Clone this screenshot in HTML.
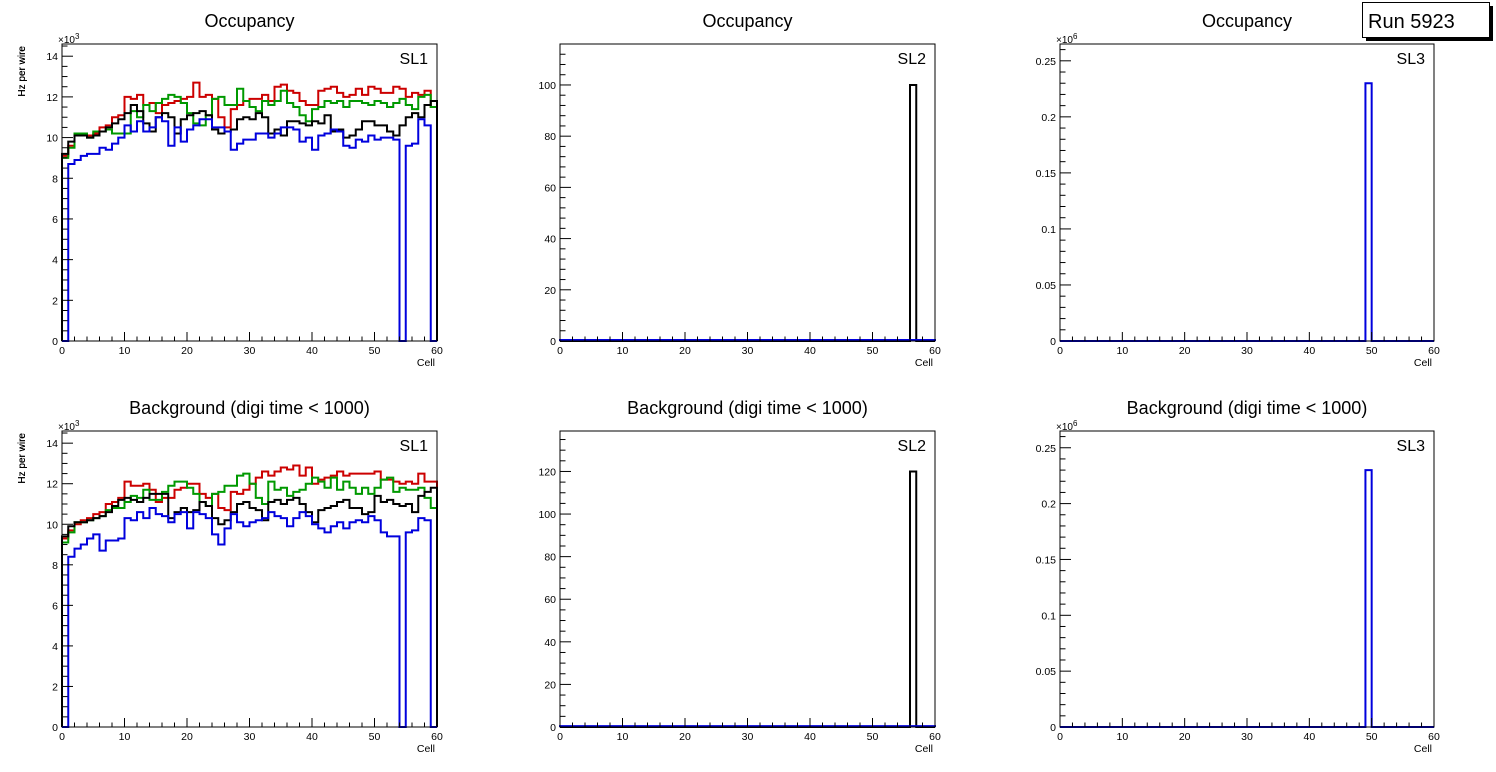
<!DOCTYPE html>
<html><head><meta charset="utf-8"><style>
html,body{margin:0;padding:0;background:#fff;}
svg{display:block;font-family:"Liberation Sans",sans-serif;}
</style></head><body>
<svg id="c" width="1496" height="772"></svg>
<script>
const bins = 60;
const occRed = [9.1,9.6,10.1,10.2,10.1,10.2,10.5,10.6,11.0,11.1,12.0,11.9,12.1,11.6,11.7,11.2,11.6,11.7,11.8,11.9,12.0,12.7,12.0,12.1,11.9,11.0,10.5,11.4,11.6,11.8,11.9,11.9,12.1,11.8,12.5,12.6,12.3,12.2,11.8,11.6,11.6,12.3,12.4,12.5,12.2,12.0,12.1,12.4,12.1,12.5,12.4,12.2,12.2,12.5,12.4,12.0,12.2,12.1,12.3,11.5];
const occGreen = [9.0,9.5,10.2,10.2,10.0,10.3,10.3,10.4,10.2,10.2,10.2,11.3,11.0,11.6,11.3,11.7,11.9,12.1,12.0,11.7,11.2,10.7,10.6,11.1,11.9,12.0,11.6,11.6,12.4,11.8,11.5,11.3,11.8,11.6,11.8,12.3,11.7,11.5,11.1,10.8,11.4,11.5,11.8,11.7,11.8,11.5,11.8,11.8,11.7,11.6,11.8,11.7,11.5,11.7,11.9,11.6,11.4,12.0,12.1,11.5];
const occBlack = [9.2,9.8,10.1,10.1,10.0,10.1,10.3,10.5,10.7,10.9,11.2,11.6,11.3,10.7,10.3,11.0,11.2,11.0,10.2,10.9,11.1,11.2,11.3,11.1,10.4,10.2,10.3,10.4,10.9,11.0,10.9,11.2,11.0,10.2,10.4,10.1,10.8,10.8,10.7,10.6,10.8,10.7,11.1,10.3,10.4,10.0,10.1,10.4,10.8,10.8,10.6,10.6,10.3,10.1,10.6,11.0,11.2,11.0,11.6,11.8];
const occBlue = [0,8.7,8.9,9.1,9.2,9.2,9.5,9.4,9.7,10.0,10.6,10.3,10.8,10.3,10.5,11.0,10.8,9.6,10.5,9.8,10.4,10.6,10.9,10.9,10.5,10.5,10.3,9.4,9.7,9.9,9.9,10.2,10.2,10.0,10.2,10.5,10.5,10.4,9.8,10.0,9.4,10.1,10.2,10.4,10.3,9.6,9.5,9.9,9.8,10.1,9.9,10.0,10.0,9.9,0,9.6,9.7,10.9,10.6,0];
const bkgRed = [9.3,9.7,10.0,10.2,10.3,10.5,10.6,11.0,11.1,11.3,12.1,11.9,11.9,12.0,11.7,11.1,11.3,11.3,11.7,11.8,12.0,12.0,11.5,11.3,11.5,10.8,10.7,11.6,11.5,11.7,12.0,12.3,12.6,12.4,12.6,12.8,12.7,12.9,12.4,12.8,12.0,12.2,12.3,12.4,12.6,12.4,12.5,12.5,12.5,12.5,12.6,12.2,12.2,12.1,12.0,12.1,12.0,12.5,12.1,12.1];
const bkgGreen = [9.1,9.6,10.1,10.1,10.2,10.3,10.4,10.7,10.8,10.8,11.1,11.4,11.3,11.7,11.2,11.2,11.6,11.9,12.1,12.1,11.8,11.5,11.1,10.9,11.5,11.6,11.9,11.9,12.4,12.5,12.0,11.3,11.0,12.1,11.7,11.8,11.4,11.6,11.7,12.0,12.3,12.1,11.8,12.3,11.7,12.1,11.8,11.5,11.8,11.5,11.8,12.2,12.3,11.6,11.8,11.7,11.7,11.8,11.3,10.8];
const bkgBlack = [9.4,9.9,10.1,10.1,10.2,10.3,10.4,10.6,10.9,11.2,11.3,11.2,11.1,11.3,11.5,11.5,11.5,10.3,10.6,10.8,10.6,10.7,11.1,10.9,10.3,10.0,10.2,10.6,11.0,11.1,10.8,10.7,10.2,11.1,11.2,11.0,11.2,11.3,11.0,10.6,10.1,10.7,10.8,10.9,11.1,11.2,10.8,10.8,10.5,10.6,11.4,11.1,11.2,11.0,10.9,11.0,10.6,11.4,11.6,11.8];
const bkgBlue = [0,8.4,8.8,9.0,9.3,9.5,8.7,9.2,9.2,9.3,10.3,10.2,10.6,10.3,10.8,10.5,10.4,10.1,10.5,10.6,9.8,10.6,10.5,10.3,9.5,9.0,9.8,10.5,10.1,9.9,10.1,10.2,10.3,10.6,10.4,10.3,9.9,10.3,10.6,10.4,10.0,9.8,9.6,9.9,10.1,9.8,10.1,10.2,10.1,10.4,10.2,9.6,9.4,9.4,0,9.6,9.7,10.3,10.2,0];
const sl2OccBlack = new Array(60).fill(0); sl2OccBlack[56] = 100;
const sl2BkgBlack = new Array(60).fill(0); sl2BkgBlack[56] = 120;
const sl2Blue = new Array(60).fill(0.4);
const sl3Blue = new Array(60).fill(0); sl3Blue[49] = 0.23;
const xTicks = [0,10,20,30,40,50,60];
const ticksA = [0,2,4,6,8,10,12,14];
const ticksB2 = [0,20,40,60,80,100];
const ticksB3 = [0,20,40,60,80,100,120];
const ticksC = [0,0.05,0.1,0.15,0.2,0.25];

const svg = document.getElementById('c');
const NS = 'http://www.w3.org/2000/svg';
function mk(tag, attrs, parent){const e=document.createElementNS(NS,tag);for(const k in attrs)e.setAttribute(k,attrs[k]);(parent||svg).appendChild(e);return e;}
function txt(x,y,s,size,anchor,parent,extra){const t=mk('text',Object.assign({x:x,y:y,'font-size':size,'text-anchor':anchor||'start',fill:'#000'},extra||{}),parent);t.textContent=s;return t;}

function pad(name, x0, x1, yTop, yBot, ymax, yticks, yminor, series, title, sl, expo){
  const g = mk('g',{});
  
  
  const sx = v => x0 + (x1-x0)*v/bins;
  const sy = v => yBot - (yBot-yTop)*v/ymax;
  series.forEach(s=>{
    let d = 'M'+sx(0)+','+sy(0);
    s.vals.forEach((v,i)=>{ d += ' L'+sx(i)+','+sy(v)+' L'+sx(i+1)+','+sy(v); });
    d += ' L'+sx(bins)+','+sy(0);
    const p = mk('path',{d:d,fill:'none',stroke:s.color,'stroke-width':2},g);
    
    
  });
  const fr = mk('rect',{x:x0,y:yTop,width:x1-x0,height:yBot-yTop,fill:'none',stroke:'#000','stroke-width':1},g);
  
  
  for(let v=0; v<=60; v+=2){
    const major = v%10===0;
    mk('line',{x1:sx(v),x2:sx(v),y1:yBot,y2:yBot-(major?9:4.5),stroke:'#000'},g);
  }
  xTicks.forEach(v=>txt(sx(v),yBot+13,String(v),10.5,'middle',g));
  for(let v=0; v<=ymax+1e-9; v+=yminor){
    const major = yticks.some(t=>Math.abs(t-v)<1e-9);
    mk('line',{x1:x0,x2:x0+(major?11:5.5),y1:sy(v),y2:sy(v),stroke:'#000'},g);
  }
  yticks.forEach(v=>txt(x0-4,sy(v)+4,String(v),10.5,'end',g));
  txt(x1-2,yBot+25,'Cell',10.5,'end',g);
  const yl = txt(0,0,'Hz per wire',10,'end',g,{transform:'translate(25,'+(yTop+2)+') rotate(-90)'});
  
  
  if(expo){ const t=txt(x0-4,yTop-1,'\u00d710',10,'start',g); const s=mk('tspan',{'font-size':8,dy:-4},t); s.textContent=expo; }
  const tt = txt((x0+x1)/2,yTop-17,title,18,'middle',g);
  
  
  const sl_ = txt(x1-9,yTop+20,sl,16,'end',g);
  
  
}
const cols = [62,560,1060];
const W = 375;
pad('sl1-occupancy',cols[0],cols[0]+W,44,341,14.6,ticksA,0.5,[
  {vals:occRed,color:'#cc0000',name:'red-series'},{vals:occGreen,color:'#009900',name:'green-series'},
  {vals:occBlack,color:'#000',name:'black-series'},{vals:occBlue,color:'#0000dd',name:'blue-series'}],'Occupancy','SL1','3');
pad('sl2-occupancy',cols[1],cols[1]+W,44,341,116,ticksB2,4,[
  {vals:sl2OccBlack,color:'#000',name:'black-series'},{vals:sl2Blue,color:'#0000dd',name:'blue-series'}],'Occupancy','SL2',null);
pad('sl3-occupancy',cols[2],cols[2]+W-1,44,341,0.265,ticksC,0.01,[
  {vals:sl3Blue,color:'#0000dd',name:'blue-series'}],'Occupancy','SL3','6');
pad('sl1-background',cols[0],cols[0]+W,431,727,14.6,ticksA,0.5,[
  {vals:bkgRed,color:'#cc0000',name:'red-series'},{vals:bkgGreen,color:'#009900',name:'green-series'},
  {vals:bkgBlack,color:'#000',name:'black-series'},{vals:bkgBlue,color:'#0000dd',name:'blue-series'}],'Background (digi time < 1000)','SL1','3');
pad('sl2-background',cols[1],cols[1]+W,431,727,139,ticksB3,5,[
  {vals:sl2BkgBlack,color:'#000',name:'black-series'},{vals:sl2Blue,color:'#0000dd',name:'blue-series'}],'Background (digi time < 1000)','SL2',null);
pad('sl3-background',cols[2],cols[2]+W-1,431,727,0.265,ticksC,0.01,[
  {vals:sl3Blue,color:'#0000dd',name:'blue-series'}],'Background (digi time < 1000)','SL3','6');
const rb = mk('g',{});


mk('rect',{x:1366,y:6,width:127,height:35,fill:'#000'},rb);
mk('rect',{x:1362.5,y:2.5,width:127,height:35,fill:'#fff',stroke:'#000'},rb);
txt(1368,28,'Run 5923',20,'start',rb);
</script>
</body></html>
